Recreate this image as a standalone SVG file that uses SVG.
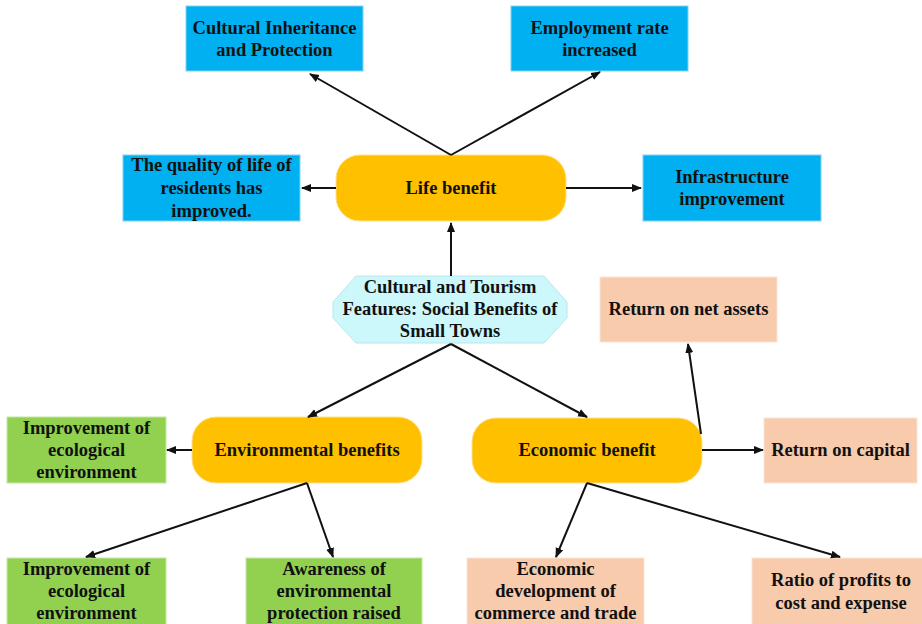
<svg xmlns="http://www.w3.org/2000/svg" width="922" height="624" viewBox="0 0 922 624">
<style>
text{font-family:'Liberation Serif','Times New Roman',Times,'DejaVu Serif',serif;font-weight:700;font-size:18.5px;fill:#111;text-anchor:middle}
.blue{fill:#00b0f0;stroke:#7fd3f5;stroke-width:1}
.orange{fill:#ffc000;stroke:#ffe08a;stroke-width:1}
.green{fill:#92d050;stroke:#c4e6a4;stroke-width:1}
.peach{fill:#f8cbad;stroke:#fbe3d3;stroke-width:1}
.cyan{fill:#ccf8fc;stroke:#b8e6ee;stroke-width:1}
.conn line{stroke:#111;stroke-width:2;marker-end:url(#ah)}
</style>
<defs>
<marker id="ah" viewBox="0 0 10 10" refX="9" refY="5" markerWidth="5" markerHeight="5" markerUnits="strokeWidth" orient="auto">
<path d="M0,1 L10,5 L0,9 Z" fill="#111"/>
</marker>
</defs>
<rect width="922" height="624" fill="#fff"/>

<g id="cultural-inheritance"><rect class="blue" x="186" y="6" width="177" height="65"/><text x="274.5" y="34">Cultural Inheritance</text><text x="274.5" y="56">and Protection</text></g>
<g id="employment"><rect class="blue" x="511" y="6" width="177" height="65"/><text x="599.5" y="34">Employment rate</text><text x="599.5" y="56">increased</text></g>
<g id="quality"><rect class="blue" x="123" y="155" width="177" height="66"/><text x="211.5" y="171">The quality of life of</text><text x="211.5" y="194">residents has</text><text x="211.5" y="217">improved.</text></g>
<g id="life"><rect class="orange" x="336" y="155" width="230" height="66" rx="24"/><text x="451" y="194">Life benefit</text></g>
<g id="infrastructure"><rect class="blue" x="643" y="155" width="178" height="66"/><text x="732" y="183">Infrastructure</text><text x="732" y="205">improvement</text></g>
<g id="center"><path class="cyan" d="M356,276 L544,276 L567,302 L567,318 L544,343 L356,343 L333,318 L333,302 Z"/><text x="450" y="293">Cultural and Tourism</text><text x="450" y="315">Features: Social Benefits of</text><text x="450" y="337">Small Towns</text></g>
<g id="net-assets"><rect class="peach" x="600" y="277" width="177" height="65"/><text x="688.5" y="315">Return on net assets</text></g>
<g id="env-left"><rect class="green" x="7" y="417" width="159" height="66"/><text x="86.5" y="434">Improvement of</text><text x="86.5" y="456">ecological</text><text x="86.5" y="478">environment</text></g>
<g id="environmental"><rect class="orange" x="192" y="417" width="230" height="66" rx="24"/><text x="307" y="456">Environmental benefits</text></g>
<g id="economic"><rect class="orange" x="472" y="418" width="230" height="65" rx="24"/><text x="587" y="456">Economic benefit</text></g>
<g id="capital"><rect class="peach" x="764" y="418" width="153" height="65"/><text x="840.5" y="456">Return on capital</text></g>
<g id="env-bottom"><rect class="green" x="7" y="558" width="159" height="70"/><text x="86.5" y="575">Improvement of</text><text x="86.5" y="597">ecological</text><text x="86.5" y="619">environment</text></g>
<g id="awareness"><rect class="green" x="246" y="558" width="176" height="70"/><text x="334" y="575">Awareness of</text><text x="334" y="597">environmental</text><text x="334" y="619">protection raised</text></g>
<g id="commerce"><rect class="peach" x="467" y="558" width="177" height="70"/><text x="555.5" y="575">Economic</text><text x="555.5" y="597">development of</text><text x="555.5" y="619">commerce and trade</text></g>
<g id="ratio"><rect class="peach" x="752" y="558" width="175" height="70"/><text x="841" y="586">Ratio of profits to</text><text x="841" y="609">cost and expense</text></g>

<g class="conn">
<line x1="451" y1="155" x2="310" y2="74"/>
<line x1="451" y1="155" x2="600" y2="72"/>
<line x1="336" y1="188" x2="302" y2="188"/>
<line x1="566" y1="188" x2="641" y2="188"/>
<line x1="451" y1="276" x2="451" y2="223"/>
<line x1="451" y1="344" x2="308" y2="417"/>
<line x1="451" y1="344" x2="587" y2="417"/>
<line x1="192" y1="450" x2="167" y2="450"/>
<line x1="702" y1="450" x2="763" y2="450"/>
<line x1="701" y1="434" x2="688" y2="344"/>
<line x1="307" y1="483" x2="86" y2="557"/>
<line x1="307" y1="483" x2="333" y2="557"/>
<line x1="587" y1="483" x2="556" y2="557"/>
<line x1="587" y1="483" x2="840" y2="557"/>
</g>
</svg>
